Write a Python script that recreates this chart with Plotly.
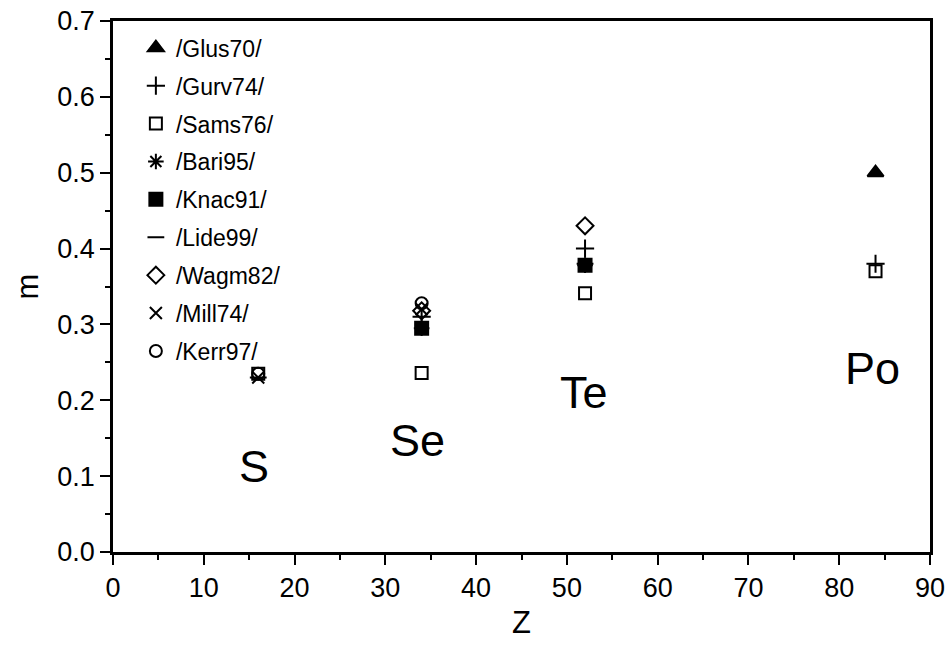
import plotly.graph_objects as go

# Atomic numbers of the chalcogens
elements = ["S", "Se", "Te", "Po"]
z_values = [16, 34, 52, 84]

# m values per source (None = no value reported)
glus70 = [None, None, None, 0.500]
gurv74 = [None, 0.310, 0.400, 0.380]
sams76 = [0.235, 0.236, 0.341, 0.370]
bari95 = [None, 0.295, 0.378, None]
knac91 = [None, 0.295, 0.378, None]
lide99 = [0.230, None, 0.380, None]
wagm82 = [None, 0.318, 0.430, None]
mill74 = [0.230, 0.320, None, None]
kerr97 = [0.235, 0.328, None, None]

# Element label positions (Z, m)
label_z = [15.5, 33.5, 51.9, 83.7]
label_m = [0.113, 0.147, 0.210, 0.242]

series = [
    ("/Glus70/", glus70, "triangle-up", 14),
    ("/Gurv74/", gurv74, "cross-thin-open", 13),
    ("/Sams76/", sams76, "square-open", 12),
    ("/Bari95/", bari95, "asterisk-open", 13),
    ("/Knac91/", knac91, "square", 13),
    ("/Lide99/", lide99, "line-ew-open", 12),
    ("/Wagm82/", wagm82, "diamond-open", 13),
    ("/Mill74/", mill74, "x-thin-open", 12),
    ("/Kerr97/", kerr97, "circle-open", 12),
]

fig = go.Figure()
for i, (name, vals, sym, size) in enumerate(series):
    fig.add_trace(go.Scatter(
        x=z_values, y=vals, mode="markers", name=name,
        legendgroup=f"g{i}",
        marker=dict(symbol=sym, size=size, color="black",
                    line=dict(color="black", width=2)),
    ))

for el, zx, my in zip(elements, label_z, label_m):
    fig.add_annotation(x=zx, y=my, text=el, showarrow=False,
                       font=dict(size=45, color="black"))

axis_common = dict(
    showline=True, linecolor="black", linewidth=2.5, mirror=True,
    ticks="outside", ticklen=10, tickwidth=2, tickcolor="black",
    showgrid=False, zeroline=False, automargin=False,
    tickfont=dict(size=27, color="black"),
    minor=dict(ticks="outside", ticklen=5, tickwidth=2, tickcolor="black"),
)

fig.update_xaxes(range=[0, 90], dtick=10, minor_dtick=5,
                 title=dict(text="Z", font=dict(size=31, color="black"), standoff=10),
                 **axis_common)
fig.update_yaxes(range=[0, 0.7], dtick=0.1, minor_dtick=0.05, tickformat=".1f",
                 title=dict(text="m", font=dict(size=31, color="black"), standoff=10),
                 **axis_common)

fig.update_layout(
    width=951, height=652,
    margin=dict(l=113, r=21, t=21, b=100),
    paper_bgcolor="white", plot_bgcolor="white",
    font=dict(family="Liberation Sans, Arial, sans-serif", color="black"),
    legend=dict(x=0.028, y=0.99, xanchor="left", yanchor="top",
                font=dict(size=23, color="black"),
                tracegroupgap=5, bgcolor="rgba(0,0,0,0)",
                itemwidth=30),
)

fig.write_html("out.html")
